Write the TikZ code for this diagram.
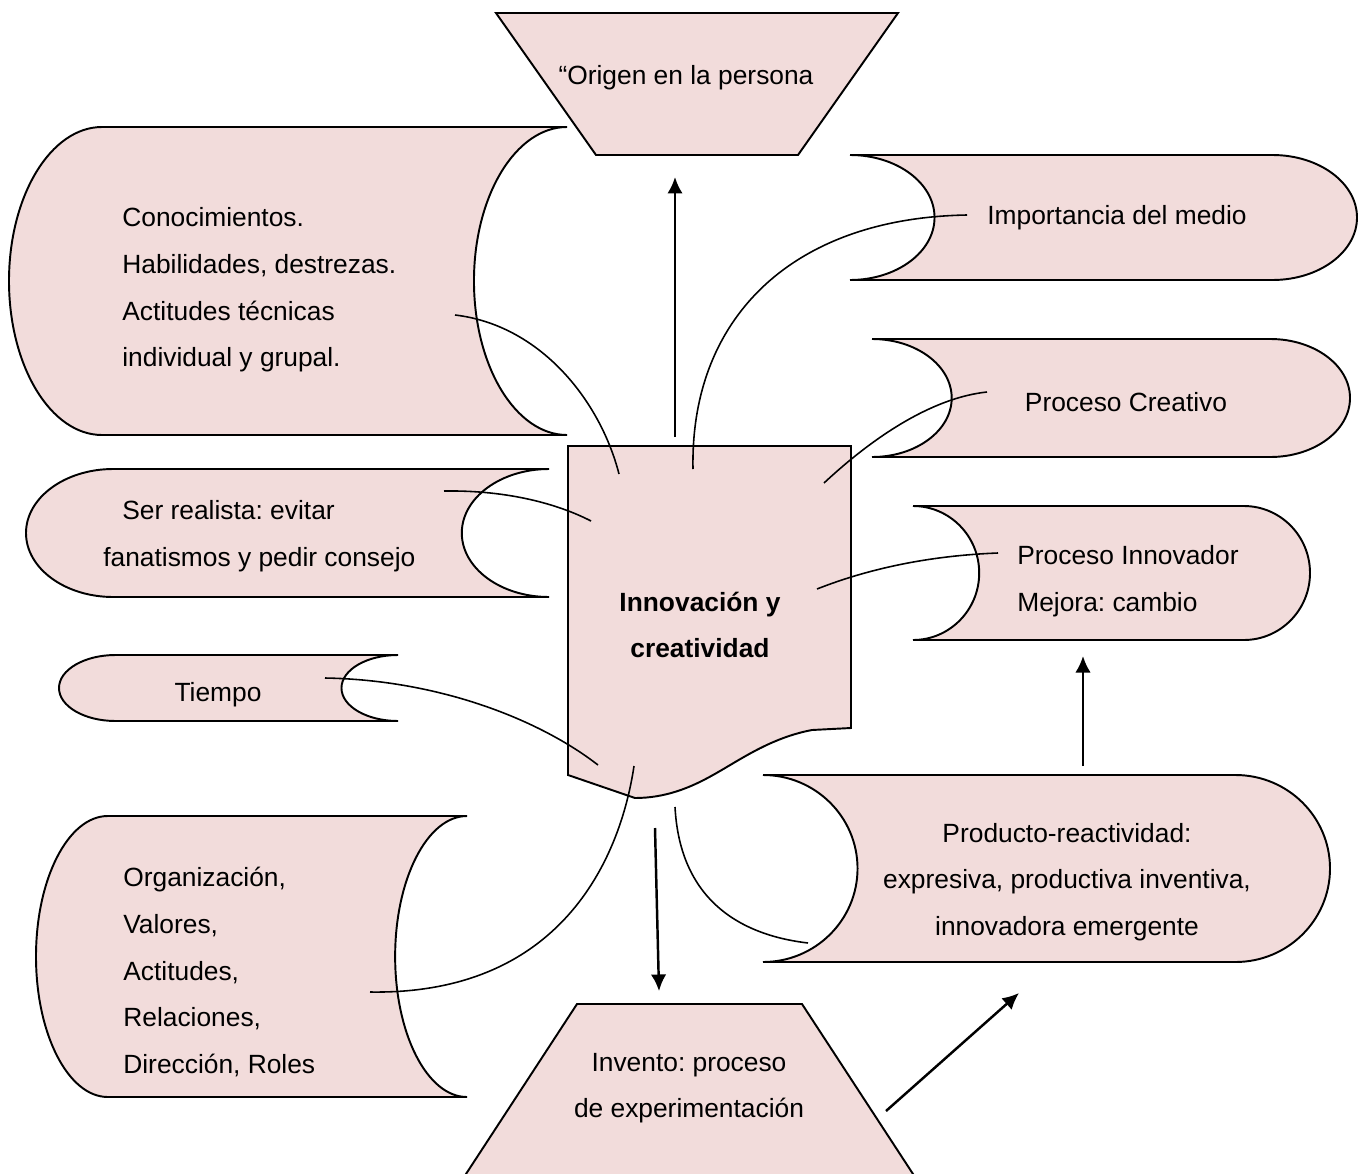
\documentclass[tikz,border=0pt]{standalone}
\usepackage{fontspec}
\setmainfont{Liberation Sans}
\usepackage{tikz}
\usetikzlibrary{arrows.meta}
\definecolor{soft_pink}{RGB}{242,220,219}
\frenchspacing

% stored-data outline: left edge x, top y, width (negative = mirrored), height
\newcommand{\storedbox}[4]{%
	\draw[boxshape,shift={(#1,#2)},xscale=#3,yscale=#4]
		(0.1667,0) .. controls (0.0747,0) and (0,0.2238) .. (0,0.5)
		.. controls (0,0.7762) and (0.0747,1) .. (0.1667,1) -- (1,1)
		.. controls (0.9080,1) and (0.8333,0.7762) .. (0.8333,0.5)
		.. controls (0.8333,0.2238) and (0.9080,0) .. (1,0) -- cycle;}

\begin{document}
\begin{tikzpicture}[x=0.02cm,y=-0.02cm,
	boxshape/.style={draw=black,fill=soft_pink,line width=1.1pt},
	txt/.style={inner sep=0pt,font=\fontsize{15}{26.5}\selectfont},
	link/.style={black,line width=0.9pt},
	flow/.style={black,line width=1.4pt,-{Latex[length=3.3mm,width=3.1mm]}}]
	\useasboundingbox (0,0) rectangle (1362,1173);
	\fill[white] (0,0) rectangle (1362,1173);
	\clip (0,0) rectangle (1362,1173);

	% outlines
	\draw[boxshape] (496,13) -- (898,13) -- (798,155) -- (596,155) -- cycle;
	\draw[boxshape] (577,1004) -- (802,1004) -- (930,1200) -- (449,1200) -- cycle;
	\storedbox{9}{127}{558}{308}
	\storedbox{26}{469}{523}{128}
	\storedbox{59}{655}{339}{66}
	\storedbox{36}{816}{431}{281}
	\storedbox{1357}{155}{-507}{125}
	\storedbox{1350}{339}{-478}{118}
	\storedbox{1310}{506}{-397}{134}
	\storedbox{1330}{775}{-567}{187}
	\draw[boxshape] (568,446) -- (851,446) -- (851,728) -- (812,730)
		.. controls (770,738) and (740,760) .. (713,775)
		.. controls (690,788) and (665,798) .. (635,798) -- (568,775) -- cycle;

	% texts
	\node[txt] (origen) at (686,78) {“Origen en la persona};
	\node[txt,align=left,anchor=west] (conoc) at (122,290) {Conocimientos.\\Habilidades, destrezas.\\Actitudes técnicas\\individual y grupal.};
	\node[txt,align=left,anchor=west] (realista) at (103,536) {\hspace*{0.38cm}Ser realista: evitar\\fanatismos y pedir consejo};
	\node[txt] (tiempo) at (218,695) {Tiempo};
	\node[txt,align=left,anchor=west] (organiz) at (123,972) {Organización,\\Valores,\\Actitudes,\\Relaciones,\\Dirección, Roles};
	\node[txt] (medio) at (1117,218) {Importancia del medio};
	\node[txt,align=left,anchor=west] (innovador) at (1017,581) {Proceso Innovador\\Mejora: cambio};
	\node[txt] (creativo) at (1126,402) {Proceso Creativo};
	\node[txt,align=center] (producto) at (1067,882) {Producto-reactividad:\\expresiva, productiva inventiva,\\innovadora emergente};
	\node[txt,align=center] (invento) at (689,1088) {Invento: proceso\\de experimentación};
	\node[txt,align=center,font=\fontsize{15}{26.5}\selectfont\bfseries] (innov) at (700,625) {Innovación y\\creatividad};

	% connector ends
	\coordinate (conoc_a) at (455,315);
	\coordinate (conoc_b) at (619,474);
	\coordinate (medio_a) at (967,215);
	\coordinate (medio_b) at (693,469);
	\coordinate (creat_a) at (987,392);
	\coordinate (creat_b) at (824,483);
	\coordinate (innov_a) at (998,553);
	\coordinate (innov_b) at (817,589);
	\coordinate (real_a) at (444,491);
	\coordinate (real_b) at (591,521);
	\coordinate (tiem_a) at (325,678);
	\coordinate (tiem_b) at (598,765);
	\coordinate (org_a) at (370,992);
	\coordinate (org_b) at (634,766);
	\coordinate (prod_a) at (675,807);
	\coordinate (prod_b) at (808,943);

	\draw[link] (conoc_a) .. controls (540,325) and (600,400) .. (conoc_b);
	\draw[link] (medio_a) .. controls (790,218) and (690,320) .. (medio_b);
	\draw[link] (creat_a) .. controls (930,398) and (870,440) .. (creat_b);
	\draw[link] (innov_a) .. controls (920,556) and (860,572) .. (innov_b);
	\draw[link] (real_a) .. controls (510,490) and (560,505) .. (real_b);
	\draw[link] (tiem_a) .. controls (440,680) and (540,720) .. (tiem_b);
	\draw[link] (org_a) .. controls (560,995) and (620,860) .. (org_b);
	\draw[link] (prod_a) .. controls (680,900) and (740,935) .. (prod_b);

	% arrows
	\coordinate (up_a) at (675,437);
	\coordinate (up_b) at (675,177);
	\coordinate (down_a) at (655,828);
	\coordinate (down_b) at (659,991);
	\coordinate (right_a) at (1083,766);
	\coordinate (right_b) at (1083,656);
	\coordinate (diag_a) at (886,1111);
	\coordinate (diag_b) at (1019,993);
	\foreach \a/\b in {up_a/up_b,down_a/down_b,right_a/right_b,diag_a/diag_b}
		\draw[flow] (\a) -- (\b);
\end{tikzpicture}
\end{document}
